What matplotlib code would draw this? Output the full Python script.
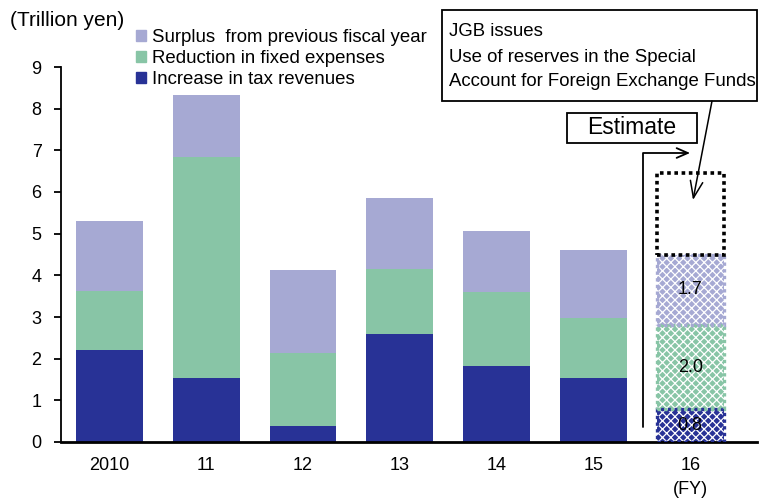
import matplotlib
matplotlib.use("Agg")
import matplotlib.pyplot as plt
from matplotlib.patches import Rectangle, Patch
import numpy as np

plt.rcParams['font.family'] = ['Liberation Sans', 'DejaVu Sans']
plt.rcParams['hatch.linewidth'] = 0.9

years = ["2010", "11", "12", "13", "14", "15", "16"]
tax_increase = [2.21, 1.54, 0.38, 2.59, 1.82, 1.54]
fixed_reduction = [1.41, 5.30, 1.76, 1.56, 1.78, 1.44]
prev_surplus = [1.68, 1.49, 1.99, 1.71, 1.46, 1.63]
# FY2016 estimate
est_tax, est_fixed, est_surplus = 0.8, 2.0, 1.7
est_other = 1.95  # JGB issues / FX reserves

c_surplus = "#A6A9D3"
c_fixed = "#88C5A6"
c_tax = "#283296"

W, H = 766, 499
fig = plt.figure(figsize=(W / 100, H / 100), dpi=100)
ax = fig.add_axes([61 / W, 1 - 442 / H, (757 - 61) / W, (442 - 67) / H])

x = np.arange(len(years))
bw = 0.69
xa = x[:-1]
ax.bar(xa, tax_increase, bw, color=c_tax, zorder=2)
ax.bar(xa, fixed_reduction, bw, bottom=tax_increase, color=c_fixed, zorder=2)
bottom2 = np.array(tax_increase) + np.array(fixed_reduction)
ax.bar(xa, prev_surplus, bw, bottom=bottom2, color=c_surplus, zorder=2)

# estimated FY2016 bar: hatched segments with dotted outlines
xe = x[-1]
segs = [(0, est_tax, c_tax), (est_tax, est_fixed, c_fixed),
        (est_tax + est_fixed, est_surplus, c_surplus)]
for b, h, c in segs:
    ax.bar(xe, h, bw, bottom=b, color=c, edgecolor="white", hatch="xxxx",
           linewidth=0, zorder=2)
    ax.bar(xe, h, bw, bottom=b, fill=False, edgecolor=c, linestyle=(0, (1, 1)),
           linewidth=2.4, zorder=3)
    ax.text(xe, b + h / 2, f"{h:.1f}", ha="center", va="center", fontsize=13,
            zorder=4)
top_b = est_tax + est_fixed + est_surplus
ax.bar(xe, est_other, bw, bottom=top_b, fill=False, edgecolor="black",
       linestyle=(0, (1, 1)), linewidth=2.6, zorder=3)

ax.set_xlim(-0.5, 6.69)
ax.set_ylim(0, 9)
ax.set_yticks(range(0, 10))
ax.set_xticks(x)
ax.set_xticklabels(years)
ax.tick_params(axis="x", length=0, labelsize=13, pad=11)
ax.tick_params(axis="y", direction="out", length=5, width=1.3, labelsize=13, pad=9)
for s in ["top", "right"]:
    ax.spines[s].set_visible(False)
ax.spines["left"].set_linewidth(1.3)
ax.spines["bottom"].set_linewidth(2.0)

fig.text(10 / W, 1 - 21 / H, "(Trillion yen)", fontsize=15, va="center", ha="left")
fig.text(690 / W, 1 - 489 / H, "(FY)", fontsize=13, va="center", ha="center")

handles = [Patch(color=c_surplus, label="Surplus  from previous fiscal year"),
           Patch(color=c_fixed, label="Reduction in fixed expenses"),
           Patch(color=c_tax, label="Increase in tax revenues")]
fig.legend(handles=handles, loc="upper left", bbox_to_anchor=(136 / W, 1 - 29 / H),
           frameon=False, fontsize=13.4, handlelength=0.55, handleheight=0.55,
           handletextpad=0.3, labelspacing=0.22, borderpad=0, borderaxespad=0)

# annotation box for the unshaded portion
fig.patches.append(Rectangle((442 / W, 1 - 101 / H), (757 - 442) / W, (101 - 10) / H,
                             transform=fig.transFigure, fill=False,
                             edgecolor="black", linewidth=1.3))
for i, line in enumerate(["JGB issues", "Use of reserves in the Special",
                          "Account for Foreign Exchange Funds"]):
    fig.text(449 / W, 1 - (32 + 25 * i) / H, line, fontsize=13.4, va="center", ha="left")

# "Estimate" label
fig.patches.append(Rectangle((567 / W, 1 - 143 / H), (697 - 567) / W, (143 - 113) / H,
                             transform=fig.transFigure, fill=False,
                             edgecolor="black", linewidth=1.3))
fig.text(632 / W, 1 - 128 / H, "Estimate", fontsize=16.5, va="center", ha="center")

ax.annotate("", xy=(690, H - 153), xycoords="figure pixels",
            xytext=(643, H - 427), textcoords="figure pixels",
            arrowprops=dict(arrowstyle="->,head_length=0.8,head_width=0.35",
                            connectionstyle="angle,angleA=90,angleB=0,rad=0",
                            color="black", lw=1.3, shrinkA=0, shrinkB=0))
ax.annotate("", xy=(693, H - 200), xycoords="figure pixels",
            xytext=(712, H - 101), textcoords="figure pixels",
            arrowprops=dict(arrowstyle="->,head_length=1.2,head_width=0.45",
                            color="black", lw=1.1, shrinkA=0, shrinkB=0))

fig.savefig("out.png", dpi=100)
